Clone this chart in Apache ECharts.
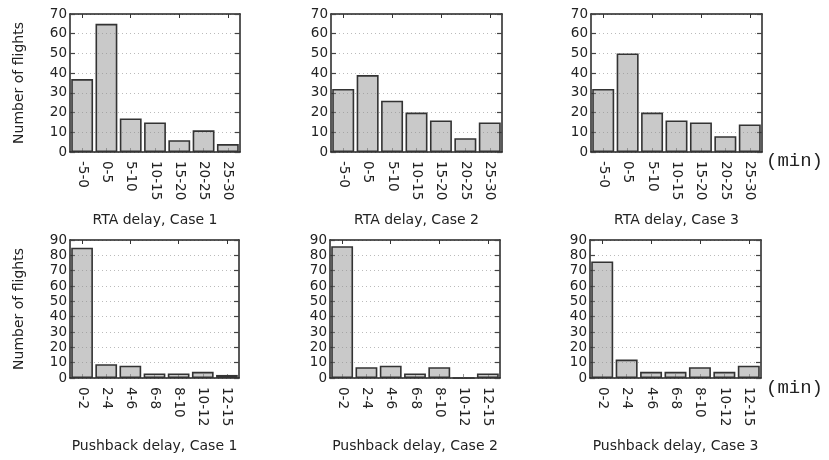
<!DOCTYPE html>
<html>
<head>
<meta charset="utf-8">
<script src="https://cdn.jsdelivr.net/npm/echarts@6/dist/echarts.min.js"></script>
<style>
html,body{margin:0;padding:0;background:#fff;}
#chart{width:829px;height:460px;}
</style>
</head>
<body>
<div id="chart"></div>
<script>
// ---- data ----
const rtaCats = ['-5-0', '0-5', '5-10', '10-15', '15-20', '20-25', '25-30'];
const pushCats = ['0-2', '2-4', '4-6', '6-8', '8-10', '10-12', '12-15'];
const rta1 = [37, 65, 17, 15, 6, 11, 4];
const rta2 = [32, 39, 26, 20, 16, 7, 15];
const rta3 = [32, 50, 20, 16, 15, 8, 14];
const push1 = [85, 9, 8, 3, 3, 4, 2];
const push2 = [86, 7, 8, 3, 7, 0, 3];
const push3 = [76, 12, 4, 4, 7, 4, 8];
const rtaTicks = {max: 70, interval: 10};
const pushTicks = {max: 90, interval: 10};
const panelNames = ['RTA delay, Case 1', 'RTA delay, Case 2', 'RTA delay, Case 3',
                    'Pushback delay, Case 1', 'Pushback delay, Case 2', 'Pushback delay, Case 3'];
const yName = 'Number of flights';
const unitLabel = '(min)';

const panels = [
  {cats: rtaCats, vals: rta1, ticks: rtaTicks, left: 70, top: 14, width: 170},
  {cats: rtaCats, vals: rta2, ticks: rtaTicks, left: 331, top: 14, width: 171},
  {cats: rtaCats, vals: rta3, ticks: rtaTicks, left: 591, top: 14, width: 171},
  {cats: pushCats, vals: push1, ticks: pushTicks, left: 70, top: 240, width: 169},
  {cats: pushCats, vals: push2, ticks: pushTicks, left: 330, top: 240, width: 170},
  {cats: pushCats, vals: push3, ticks: pushTicks, left: 590, top: 240, width: 171}
];

const FONT = 'DejaVu Sans';
const grid = [], xAxis = [], yAxis = [], series = [];

panels.forEach((p, i) => {
  grid.push({left: p.left, top: p.top, width: p.width, height: 138, containLabel: false});
  // bottom category axis
  xAxis.push({
    type: 'category', gridIndex: i, data: p.cats, position: 'bottom',
    axisLine: {show: true, onZero: false, lineStyle: {color: '#222', width: 1.5}},
    axisTick: {show: true, inside: true, alignWithLabel: true, length: 4, lineStyle: {color: '#999'}},
    axisLabel: {rotate: -90, margin: 9, fontFamily: FONT, fontSize: 13.5, color: '#222'},
    name: panelNames[i], nameLocation: 'middle', nameGap: 61,
    nameTextStyle: {fontFamily: FONT, fontSize: 14, color: '#222'}
  });
  // top frame axis
  xAxis.push({
    type: 'category', gridIndex: i, data: p.cats, position: 'top',
    axisLine: {show: true, onZero: false, lineStyle: {color: '#222', width: 1.5}},
    axisTick: {show: true, inside: true, alignWithLabel: true, length: 4, lineStyle: {color: '#333'}},
    axisLabel: {show: false}
  });
  // left value axis
  yAxis.push({
    type: 'value', gridIndex: i, min: 0, max: p.ticks.max, interval: p.ticks.interval,
    position: 'left',
    axisLine: {show: true, onZero: false, lineStyle: {color: '#222', width: 1.5}},
    axisTick: {show: true, inside: true, length: 5, lineStyle: {color: '#444', width: 1.2}},
    axisLabel: {margin: 3, fontFamily: FONT, fontSize: 13.5, color: '#222'},
    splitLine: {show: true, lineStyle: {color: '#bbb', type: [1, 3], width: 1}},
    name: (i % 3 === 0) ? yName : '', nameLocation: 'middle', nameGap: 44, nameRotate: 90,
    nameTextStyle: {fontFamily: FONT, fontSize: 14, color: '#222'}
  });
  // right frame axis
  yAxis.push({
    type: 'value', gridIndex: i, min: 0, max: p.ticks.max, interval: p.ticks.interval,
    position: 'right',
    axisLine: {show: true, onZero: false, lineStyle: {color: '#222', width: 1.5}},
    axisTick: {show: true, inside: true, length: 5, lineStyle: {color: '#444', width: 1.2}},
    axisLabel: {show: false},
    splitLine: {show: false}
  });
  series.push({
    type: 'bar', xAxisIndex: 2 * i, yAxisIndex: 2 * i, data: p.vals,
    barWidth: '90%',
    itemStyle: {color: 'rgba(140,140,140,0.47)', borderColor: '#333', borderWidth: 1.6},
    emphasis: {disabled: true}, silent: true, animation: false
  });
});

const chart = echarts.init(document.getElementById('chart'), null, {renderer: 'canvas'});
chart.setOption({
  animation: false,
  backgroundColor: '#fff',
  grid, xAxis, yAxis, series,
  graphic: [
    {type: 'text', left: 766, top: 151, style: {text: unitLabel, font: '19px "Liberation Mono"', fill: '#222'}},
    {type: 'text', left: 766, top: 378, style: {text: unitLabel, font: '19px "Liberation Mono"', fill: '#222'}}
  ]
});
</script>
</body>
</html>
